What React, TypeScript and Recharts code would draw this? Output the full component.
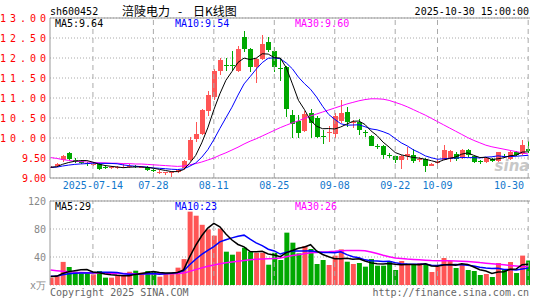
import React from "react";
import {
  Bar,
  CartesianGrid,
  Cell,
  ComposedChart,
  Line,
  ReferenceLine,
  XAxis,
  YAxis,
} from "recharts";

// trading days shown on the chart (2025)
const dates = [
  "07-03", "07-04", "07-07", "07-08", "07-09", "07-10", "07-11", "07-14", "07-15", "07-16",
  "07-17", "07-18", "07-21", "07-22", "07-23", "07-24", "07-25", "07-28", "07-29", "07-30",
  "07-31", "08-01", "08-04", "08-05", "08-06", "08-07", "08-08", "08-11", "08-12", "08-13",
  "08-14", "08-15", "08-18", "08-19", "08-20", "08-21", "08-22", "08-25", "08-26", "08-27",
  "08-28", "08-29", "09-01", "09-02", "09-03", "09-04", "09-05", "09-08", "09-09", "09-10",
  "09-11", "09-12", "09-15", "09-16", "09-17", "09-18", "09-19", "09-22", "09-23", "09-24",
  "09-25", "09-26", "09-29", "09-30", "10-09", "10-10", "10-13", "10-14", "10-15", "10-16",
  "10-17", "10-20", "10-21", "10-22", "10-23", "10-24", "10-27", "10-28", "10-29", "10-30",
];

const opens = [
  9.27, 9.30, 9.45, 9.63, 9.45, 9.42, 9.37, 9.34, 9.36, 9.27,
  9.25, 9.25, 9.25, 9.26, 9.30, 9.26, 9.28, 9.19, 9.13, 9.12,
  9.12, 9.14, 9.25, 9.45, 9.98, 10.12, 10.68, 11.02, 11.68, 11.83,
  11.82, 11.67, 12.52, 12.22, 11.77, 11.97, 12.39, 12.18, 11.76, 11.77,
  10.58, 10.42, 10.17, 10.62, 10.50, 10.06, 10.12, 10.10, 10.43, 10.64,
  10.37, 10.39, 10.14, 10.06, 9.81, 9.80, 9.58, 9.54, 9.44, 9.55,
  9.57, 9.44, 9.47, 9.32, 9.38, 9.47, 9.46, 9.61, 9.51, 9.69,
  9.54, 9.42, 9.40, 9.48, 9.42, 9.56, 9.48, 9.65, 9.61, 9.72,
];
const highs = [
  9.30, 9.38, 9.58, 9.64, 9.50, 9.45, 9.40, 9.39, 9.37, 9.30,
  9.30, 9.29, 9.34, 9.36, 9.33, 9.30, 9.29, 9.22, 9.20, 9.16,
  9.17, 9.22, 9.44, 10.02, 10.40, 10.73, 11.17, 11.72, 12.00, 12.00,
  12.17, 12.30, 12.67, 12.25, 12.00, 12.58, 12.53, 12.27, 11.99, 11.80,
  10.70, 10.58, 10.68, 10.72, 10.56, 10.20, 10.30, 10.62, 10.95, 10.77,
  10.45, 10.47, 10.20, 10.08, 9.86, 9.82, 9.63, 9.56, 9.57, 9.78,
  9.72, 9.52, 9.50, 9.38, 9.45, 9.82, 9.70, 9.65, 9.72, 9.72,
  9.56, 9.45, 9.53, 9.50, 9.66, 9.60, 9.67, 9.68, 9.94, 9.92,
];
const lows = [
  9.24, 9.28, 9.40, 9.45, 9.38, 9.35, 9.30, 9.31, 9.19, 9.22,
  9.22, 9.23, 9.24, 9.24, 9.24, 9.24, 9.18, 9.14, 9.10, 9.08,
  9.03, 9.12, 9.20, 9.42, 9.90, 10.08, 10.56, 10.95, 11.58, 11.67,
  11.68, 11.64, 12.14, 11.64, 11.37, 11.95, 12.14, 11.64, 11.43, 10.52,
  10.00, 10.00, 10.14, 10.00, 9.99, 9.85, 9.89, 9.99, 10.38, 10.28,
  10.25, 10.08, 10.02, 9.79, 9.72, 9.48, 9.50, 9.38, 9.23, 9.44,
  9.38, 9.40, 9.15, 9.30, 9.33, 9.45, 9.40, 9.42, 9.48, 9.52,
  9.38, 9.35, 9.37, 9.40, 9.40, 9.50, 9.45, 9.55, 9.58, 9.62,
];
const closes = [
  9.28, 9.35, 9.56, 9.48, 9.42, 9.37, 9.35, 9.36, 9.23, 9.25,
  9.27, 9.27, 9.27, 9.29, 9.28, 9.28, 9.20, 9.17, 9.15, 9.14,
  9.14, 9.20, 9.42, 9.96, 10.10, 10.71, 11.08, 11.68, 11.95, 11.80,
  11.80, 12.22, 12.22, 11.77, 11.97, 12.35, 12.18, 11.77, 11.73, 10.73,
  10.35, 10.13, 10.60, 10.37, 10.02, 10.04, 10.15, 10.55, 10.62, 10.38,
  10.39, 10.18, 10.12, 9.82, 9.79, 9.57, 9.56, 9.44, 9.54, 9.61,
  9.42, 9.47, 9.30, 9.36, 9.41, 9.71, 9.67, 9.48, 9.71, 9.57,
  9.40, 9.40, 9.51, 9.44, 9.65, 9.54, 9.65, 9.57, 9.83, 9.68,
];
// volume, 万手
const volumes = [
  10.5, 14.3, 33, 25.7, 19, 16.7, 16.7, 15.2, 20, 10.5,
  10.5, 12.9, 12.9, 19, 20.5, 17.6, 20, 19, 11.9, 16.7,
  17.6, 24.8, 37, 104.8, 99, 86, 79.5, 70.5, 80.5, 47.6,
  43.3, 47.6, 53.3, 47.6, 46, 46, 29, 46, 35.7, 74.8,
  60.5, 45.2, 55.7, 51.4, 30, 35.7, 28.6, 41.9, 50.9, 33.3,
  30, 31.4, 26.2, 37.1, 27.6, 27.6, 34.3, 21.4, 34.3, 28.6,
  28.6, 31.4, 28.6, 18.6, 26.2, 38.6, 34.3, 24.3, 28.6, 21.4,
  20, 14.3, 15.7, 11.4, 31.4, 21.4, 32.9, 17.1, 42, 35,
];
// closes / volumes of the days just before the window (estimated from the MA lines)
const priorCloses = [9.30, 9.28, 9.25, 9.24, 9.26, 9.28, 9.25, 9.26, 9.27];
const priorVolumes = [12, 13, 14, 12, 13, 14, 12, 13, 12];

// 30-day averages
const priceMa30 = [
  9.51, 9.49, 9.46, 9.44, 9.42, 9.41, 9.40, 9.39, 9.38, 9.38,
  9.37, 9.37, 9.36, 9.36, 9.35, 9.35, 9.34, 9.33, 9.32, 9.31,
  9.30, 9.29, 9.30, 9.33, 9.36, 9.40, 9.45, 9.50, 9.57, 9.63,
  9.70, 9.77, 9.85, 9.92, 9.98, 10.05, 10.12, 10.19, 10.26, 10.32,
  10.38, 10.43, 10.49, 10.55, 10.60, 10.65, 10.70, 10.75, 10.80, 10.85,
  10.89, 10.93, 10.96, 10.98, 10.98, 10.97, 10.94, 10.89, 10.84, 10.78,
  10.71, 10.64, 10.57, 10.49, 10.41, 10.33, 10.25, 10.17, 10.09, 10.01,
  9.94, 9.88, 9.82, 9.78, 9.75, 9.72, 9.69, 9.66, 9.63, 9.60,
];
const volumeMa30 = [
  21.5, 20.5, 19.5, 18.8, 18.2, 17.8, 17.5, 17.2, 17.0, 16.8,
  16.6, 16.4, 16.3, 16.2, 16.1, 16.0, 16.0, 16.0, 15.9, 15.9,
  16.0, 16.3, 17.0, 19.5, 22.0, 24.5, 26.8, 28.5, 30.5, 31.8,
  33.0, 34.0, 35.0, 36.0, 36.8, 37.3, 37.6, 38.0, 38.5, 40.5,
  42.2, 43.3, 44.8, 46.0, 46.6, 47.2, 47.6, 48.2, 49.0, 49.2,
  49.3, 49.3, 49.0, 47.0, 45.0, 42.5, 40.5, 38.5, 37.8, 37.0,
  36.5, 36.0, 35.5, 35.0, 34.8, 34.6, 34.5, 34.3, 34.0, 33.5,
  33.0, 32.0, 31.2, 30.3, 29.5, 28.8, 28.0, 27.3, 26.6, 26.0,
];

const tickIdx = [7, 17, 27, 37, 47, 57, 64, 79];
const tickLabels = ["2025-07-14", "07-28", "08-11", "08-25", "09-08", "09-22", "10-09", "10-30"];
const priceTicks = [9, 9.5, 10, 10.5, 11, 11.5, 12, 12.5, 13];
const volumeTicks = [0, 40, 80, 120];

const RED = "#ff5555";
const GREEN = "#00a800";
const GRID = "#aaaaaa";
const BORDER = "#999999";
const MONO = "'DejaVu Sans Mono', monospace";
const CJK = "'Noto Sans CJK SC', sans-serif";

function movingAvg(vals: number[], prior: number[], n: number) {
  const all = [...prior, ...vals];
  return vals.map((_, i) => {
    const end = prior.length + i;
    let s = 0;
    for (let k = 0; k < n; k++) s += all[end - k];
    return s / n;
  });
}

const ma5 = movingAvg(closes, priorCloses, 5);
const ma10 = movingAvg(closes, priorCloses, 10);
const vma5 = movingAvg(volumes, priorVolumes, 5);
const vma10 = movingAvg(volumes, priorVolumes, 10);

const rows = dates.map((d, i) => ({
  i,
  d,
  o: opens[i],
  h: highs[i],
  l: lows[i],
  c: closes[i],
  hl: [lows[i], highs[i]],
  v: volumes[i],
  ma5: ma5[i],
  ma10: ma10[i],
  ma30: priceMa30[i],
  vma5: vma5[i],
  vma10: vma10[i],
  vma30: volumeMa30[i],
}));

function Candle(props: any) {
  const { x, y, width, height, payload } = props;
  if (x == null || payload == null) return null;
  const { o, h, l, c } = payload;
  const color = c >= o ? RED : GREEN;
  const top = Math.min(y, y + height);
  const span = Math.abs(height);
  const k = h - l > 0 ? span / (h - l) : 0;
  const yOf = (p: number) => top + (h - p) * k;
  const bTop = yOf(Math.max(o, c));
  const bBot = yOf(Math.min(o, c));
  const bx = Math.round(x);
  const cx = bx + Math.floor(width / 2) + 0.5;
  return (
    <g shapeRendering="crispEdges">
      <line x1={cx} x2={cx} y1={top} y2={top + span} stroke={color} strokeWidth={1} />
      <rect
        x={bx}
        y={Math.round(bTop)}
        width={width}
        height={Math.max(1, Math.round(bBot - bTop))}
        fill={color}
      />
    </g>
  );
}

function PriceTick({ y, payload }: any) {
  const s = Number(payload.value).toFixed(2);
  const wide = s.length > 4;
  return (
    <text
      x={wide ? 0 : 46}
      y={y}
      dy="0.355em"
      textAnchor={wide ? "start" : "end"}
      textLength={wide ? 46 : undefined}
      lengthAdjust="spacing"
      fontFamily={MONO}
      fontSize={10}
      fill="#ff0000"
    >
      {s}
    </text>
  );
}

function VolumeTick({ y, payload }: any) {
  const v = Number(payload.value);
  return (
    <text x={46} y={y} dy="0.355em" textAnchor="end" fontFamily={MONO} fontSize={10} fill="#888">
      {v === 0 ? "x万" : String(v)}
    </text>
  );
}

function DateTick({ x, payload, index }: any) {
  const label = tickLabels[tickIdx.indexOf(payload.value)] ?? "";
  const last = index === tickIdx.length - 1;
  return (
    <text
      x={last ? 524 : x}
      y={189}
      textAnchor={last ? "end" : "middle"}
      fontFamily={MONO}
      fontSize={10}
      fill="#1177cc"
    >
      {label}
    </text>
  );
}

export default function App() {
  return (
    <div style={{ position: "fixed", left: 0, top: 0, width: 545, height: 300, background: "#fff" }}>
      <div style={{ position: "absolute", left: 0, top: 0 }}>
        <ComposedChart
          width={545}
          height={192}
          data={rows}
          margin={{ top: 18, right: 15, bottom: 0, left: 0 }}
        >
          <CartesianGrid vertical={false} stroke={GRID} strokeDasharray="1 2" />
          {tickIdx.map((t) => (
            <ReferenceLine key={t} x={t} stroke={GRID} strokeDasharray="5 4" />
          ))}
          <ReferenceLine y={13} stroke={BORDER} />
          <XAxis
            type="number"
            dataKey="i"
            domain={[-0.1, 79.3]}
            ticks={tickIdx}
            interval={0}
            tick={<DateTick />}
            tickLine={false}
            axisLine={{ stroke: BORDER }}
            height={14}
            allowDataOverflow
          />
          <YAxis
            domain={[9, 13]}
            ticks={priceTicks}
            interval={0}
            width={50}
            tick={<PriceTick />}
            tickLine={false}
            axisLine={{ stroke: BORDER }}
            allowDataOverflow
          />
          <YAxis yAxisId="r" orientation="right" width={0} domain={[0, 1]} tick={false} axisLine={{ stroke: BORDER }} />
          <Bar dataKey="hl" barSize={5} shape={<Candle />} isAnimationActive={false} />
          <Line dataKey="ma30" stroke="#ff00ff" strokeWidth={1} dot={false} isAnimationActive={false} />
          <Line dataKey="ma10" stroke="#0000ff" strokeWidth={1} dot={false} isAnimationActive={false} />
          <Line dataKey="ma5" stroke="#000000" strokeWidth={1} dot={false} isAnimationActive={false} />
        </ComposedChart>
      </div>

      <div style={{ position: "absolute", left: 0, top: 192 }}>
        <ComposedChart
          width={545}
          height={108}
          data={rows}
          margin={{ top: 9, right: 15, bottom: 15, left: 0 }}
        >
          <CartesianGrid vertical={false} stroke={GRID} strokeDasharray="1 2" />
          {tickIdx.map((t) => (
            <ReferenceLine key={t} x={t} stroke={GRID} strokeDasharray="5 4" />
          ))}
          <ReferenceLine y={120} stroke={BORDER} />
          <XAxis
            type="number"
            dataKey="i"
            domain={[-0.1, 79.3]}
            ticks={tickIdx}
            tick={false}
            tickLine={false}
            axisLine={{ stroke: BORDER }}
            height={0}
            allowDataOverflow
          />
          <YAxis
            domain={[0, 120]}
            ticks={volumeTicks}
            interval={0}
            width={50}
            tick={<VolumeTick />}
            tickLine={false}
            axisLine={{ stroke: BORDER }}
            allowDataOverflow
          />
          <YAxis yAxisId="r" orientation="right" width={0} domain={[0, 1]} tick={false} axisLine={{ stroke: BORDER }} />
          <Bar dataKey="v" barSize={5} isAnimationActive={false}>
            {rows.map((r) => (
              <Cell key={r.i} fill={r.c >= r.o ? RED : GREEN} />
            ))}
          </Bar>
          <Line dataKey="vma30" stroke="#ff00ff" strokeWidth={1.5} dot={false} isAnimationActive={false} />
          <Line dataKey="vma10" stroke="#0000ff" strokeWidth={1.5} dot={false} isAnimationActive={false} />
          <Line dataKey="vma5" stroke="#000000" strokeWidth={1.5} dot={false} isAnimationActive={false} />
        </ComposedChart>
      </div>

      <svg
        width={545}
        height={300}
        style={{ position: "absolute", left: 0, top: 0, pointerEvents: "none" }}
      >
        <g fontFamily={MONO} fontSize={10}>
          <text x={50} y={15} fill="#000">sh600452</text>
          <text x={529} y={15} textAnchor="end" fill="#000">2025-10-30 15:00:00</text>
          <text x={55} y={27} fill="#000">MA5:9.64</text>
          <text x={175} y={27} fill="#0000ff">MA10:9.54</text>
          <text x={295} y={27} fill="#ff00ff">MA30:9.60</text>
          <text x={55} y={210} fill="#000">MA5:29</text>
          <text x={175} y={210} fill="#0000ff">MA10:23</text>
          <text x={295} y={210} fill="#ff00ff">MA30:26</text>
          <text x={50} y={296} fill="#666">Copyright 2025 SINA.COM</text>
          <text x={529} y={296} textAnchor="end" fill="#666">http://finance.sina.com.cn</text>
        </g>
        <g fontFamily={CJK} fontSize={12} fill="#000">
          <text x={122} y={16}>涪陵电力</text>
          <text x={180} y={16} textAnchor="middle">-</text>
          <text x={193} y={16}>日K线图</text>
        </g>
        <text
          x={512}
          y={171}
          textAnchor="middle"
          fontFamily="'DejaVu Sans', sans-serif"
          fontSize={15}
          fontStyle="italic"
          fontWeight="bold"
          fill="#bbbbbb"
          opacity={0.8}
        >
          sina
        </text>
      </svg>
    </div>
  );
}
